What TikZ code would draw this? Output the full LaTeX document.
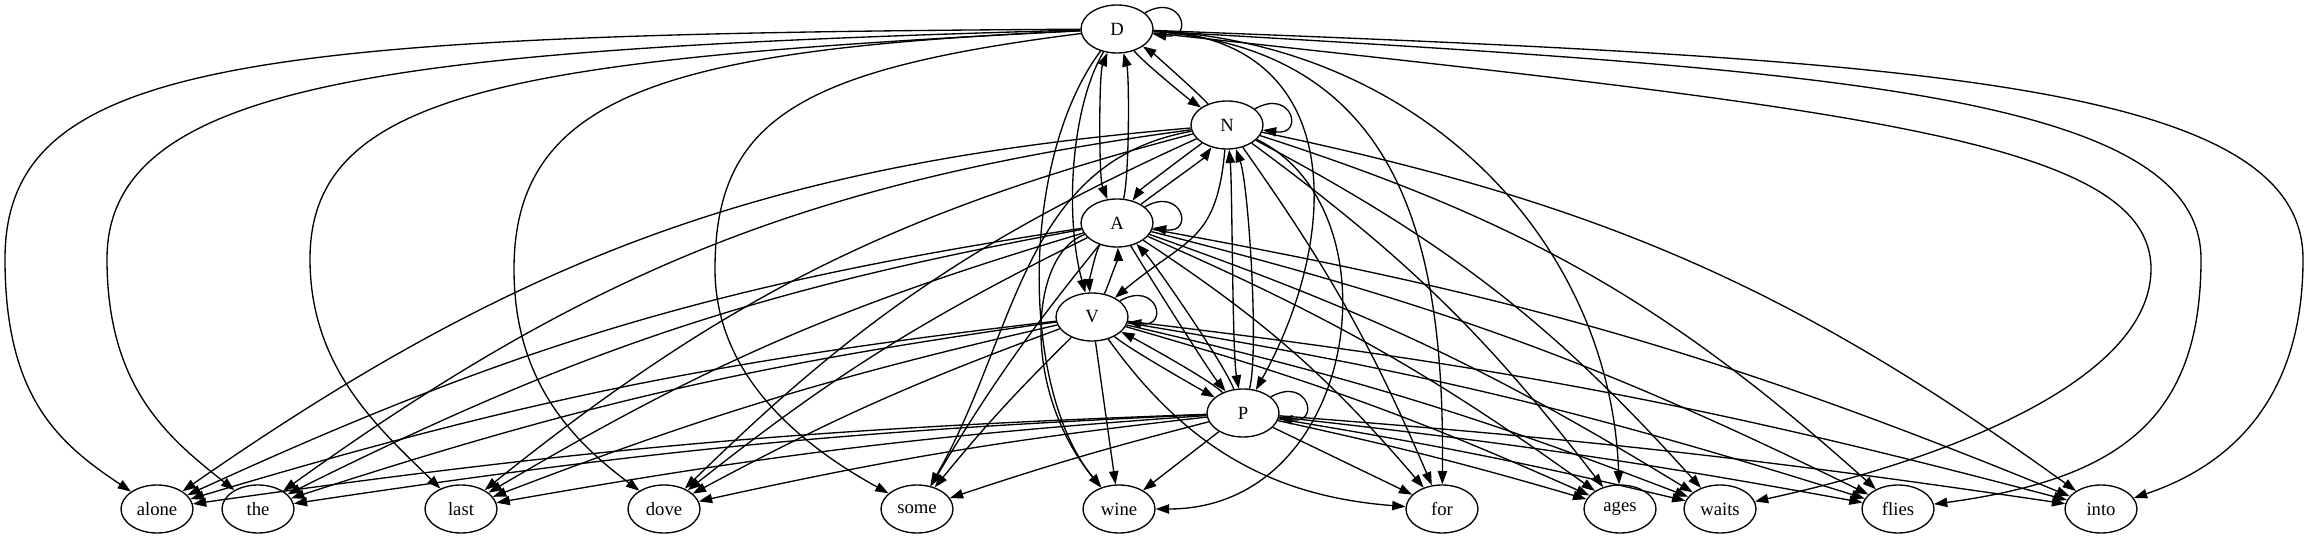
\documentclass[tikz,border=0pt]{standalone}
\usepackage{fontspec}
\setmainfont{Liberation Serif}
\usetikzlibrary{arrows.meta, shapes.geometric}

\begin{document}
\begin{tikzpicture}[x=0.75pt, y=0.75pt, line width=1pt,
    >={Triangle[length=10pt, width=7pt]},
    state/.style={ellipse, draw, minimum width=54pt, minimum height=36pt,
      inner sep=1pt, font=\fontsize{14}{16}\selectfont},
    selfloop/.style={loop, out=30, in=-8, min distance=32pt},
    pair/.style={looseness=0.4}]
  \useasboundingbox (0,0) rectangle (2309,539);

  \node[state] (D) at (1117,510) {D};
  \node[state] (N) at (1227,414) {N};
  \node[state] (A) at (1117,316) {A};
  \node[state] (V) at (1092,222) {V};
  \node[state] (P) at (1243,126) {P};
  \foreach \w/\x in {alone/157, the/258, last/461, dove/664, some/917, wine/1119,
      for/1442, ages/1620, waits/1720, flies/1898, into/2101}
    \node[state] (\w) at (\x,30) {\w};

  \path[->]
    (D) edge[selfloop] (D)
    (N) edge[selfloop] (N)
    (A) edge[selfloop] (A)
    (V) edge[selfloop] (V)
    (P) edge[selfloop] (P)
    (D) edge[pair, out=-52, in=146] (N)
    (N) edge[pair, out=132, in=-34] (D)
    (D) edge[pair, <->, out=-112, in=112] (A)
    (A) edge[pair, out=75, in=-75] (D)
    (N) edge[pair, out=216, in=55] (A)
    (A) edge[pair, out=38, in=235] (N)
    (A) edge[pair, out=232, in=95] (V)
    (V) edge[pair, out=62, in=-88] (A)
    (V) edge[pair, out=-41, in=151] (P)
    (P) edge[pair, out=135, in=-27] (V)
    (A) edge[pair, out=-59, in=129] (P)
    (P) edge[pair, out=111, in=-47] (A)
    (N) edge[pair, <->, out=-85, in=100] (P)
    (P) edge[pair, out=75, in=-70] (N)
    (N) edge[out=-95, in=40, looseness=1.3] (V)
    (N) edge[out=190, in=60] (some)
    ;

  \draw[->] (D) .. controls (1070,430) and (1065,320) .. (V);
  \draw[->] (D) .. controls (1350,500) and (1340,300) .. (P);
  \draw[->] (D) .. controls (1020,380) and (1020,150) .. (wine);
  \draw[->] (A) .. controls (1030,285) and (1020,150) .. (wine);
  \draw[->] (N) .. controls (1400,330) and (1360,30) .. (wine);
  \draw[->] (D) .. controls (1400,490) and (1445,300) .. (for);
  \draw[->] (D) .. controls (1420,495) and (1610,300) .. (ages);

  \draw[->] (D) .. controls (250,505) and (5,480) .. (5,280)
    .. controls (5,140) and (60,95) .. (alone);
  \draw[->] (D) .. controls (400,490) and (107,460) .. (107,280)
    .. controls (107,150) and (170,100) .. (the);
  \draw[->] (D) .. controls (520,480) and (310,450) .. (310,280)
    .. controls (310,170) and (380,110) .. (last);
  \draw[->] (D) .. controls (680,490) and (514,450) .. (514,270)
    .. controls (514,160) and (570,100) .. (dove);
  \draw[->] (D) .. controls (800,470) and (715,420) .. (715,270)
    .. controls (715,170) and (790,100) .. (some);
  \draw[->] (D) .. controls (1850,430) and (2151,400) .. (2151,270)
    .. controls (2151,160) and (1950,80) .. (waits);
  \draw[->] (D) .. controls (1800,470) and (2201,450) .. (2201,280)
    .. controls (2201,120) and (2120,60) .. (flies);
  \draw[->] (D) .. controls (1900,480) and (2303,460) .. (2303,280)
    .. controls (2303,130) and (2220,70) .. (into);

  \foreach \w/\b in {alone/-15, the/-14, last/-12, dove/-10, for/6, ages/8,
      waits/10, flies/12, into/12}
    \path[->] (N) edge[bend left=\b] (\w);
  \foreach \w/\b in {alone/-8, the/-8, last/-7, dove/-6, some/-4, for/8, ages/6,
      waits/6, flies/6, into/6}
    \path[->] (A) edge[bend left=\b] (\w);
  \foreach \w/\b in {alone/-5, the/-5, last/-4, dove/-4, some/-3, wine/0, for/-25,
      ages/4, waits/4, flies/4, into/4}
    \path[->] (V) edge[bend left=\b] (\w);
  \foreach \w/\b in {alone/-3, the/-3, last/-3, dove/-3, some/-2, wine/0, for/0,
      ages/2, waits/2, flies/2, into/2}
    \path[->] (P) edge[bend left=\b] (\w);
\end{tikzpicture}
\end{document}
